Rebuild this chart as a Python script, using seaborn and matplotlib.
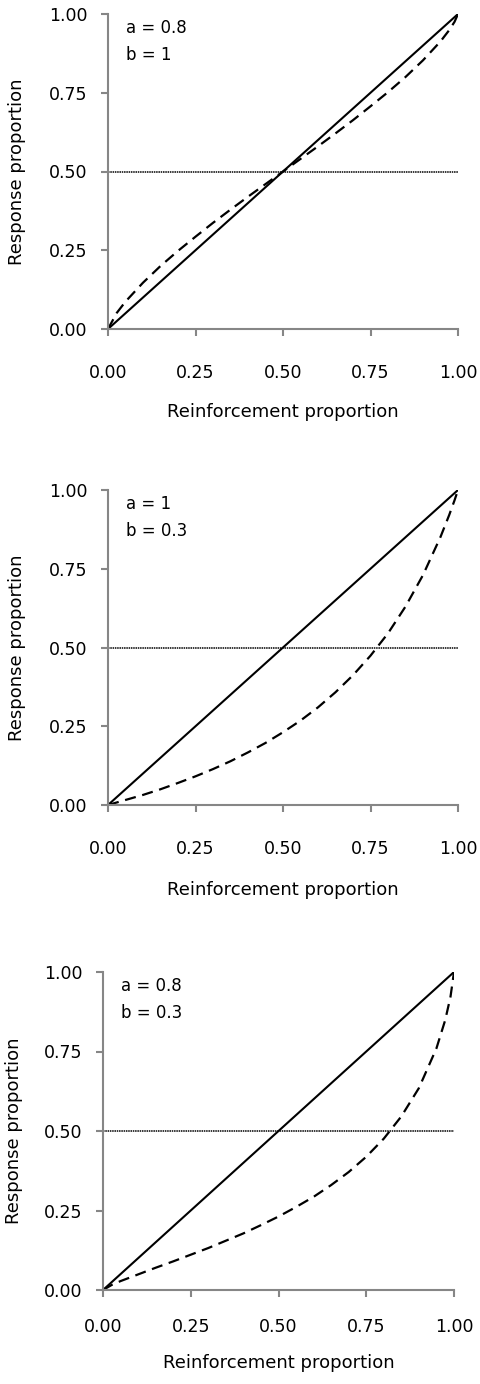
import matplotlib
matplotlib.use("Agg")
import matplotlib.pyplot as plt
import seaborn as sns
import pandas as pd

# ---- data ----
reinf = [0, 0.025, 0.05, 0.10, 0.15, 0.20, 0.25, 0.30, 0.35, 0.40, 0.45, 0.50,
         0.55, 0.60, 0.65, 0.70, 0.75, 0.80, 0.85, 0.90, 0.95, 0.975, 0.99, 1.0]
resp_p1 = [0, 0.051, 0.087, 0.147, 0.200, 0.248, 0.293, 0.337, 0.379, 0.420, 0.460, 0.500,
           0.540, 0.580, 0.621, 0.663, 0.707, 0.752, 0.800, 0.853, 0.913, 0.949, 0.975, 1.0]
resp_p2 = [0, 0.008, 0.016, 0.032, 0.050, 0.070, 0.091, 0.114, 0.139, 0.167, 0.197, 0.231,
           0.268, 0.310, 0.358, 0.412, 0.474, 0.545, 0.630, 0.730, 0.851, 0.921, 0.967, 1.0]
resp_p3 = [0, 0.016, 0.028, 0.049, 0.070, 0.090, 0.111, 0.132, 0.155, 0.178, 0.204, 0.231,
           0.261, 0.293, 0.330, 0.371, 0.419, 0.476, 0.546, 0.635, 0.760, 0.849, 0.922, 1.0]
diag_x = [0.0, 1.0]
diag_y = [0.0, 1.0]
half_x = [0.0, 1.0]
half_y = [0.5, 0.5]
panel_labels = [("a = 0.8", "b = 1"), ("a = 1", "b = 0.3"), ("a = 0.8", "b = 0.3")]
ticks = [0.0, 0.25, 0.5, 0.75, 1.0]
tick_labels = ["0.00", "0.25", "0.50", "0.75", "1.00"]
xlab = "Reinforcement proportion"
ylab = "Response proportion"

sns.set_theme(style="ticks")
plt.rcParams['font.family'] = ['DejaVu Sans']
plt.rcParams['text.color'] = 'black'

fig = plt.figure(figsize=(4.8, 13.84), dpi=100)
W, H = 480, 1384
# (left px, right px, top px, bottom px, ylabel x px, xtick pad, xlabel center px)
geo = [
    (108, 458, 14, 329, 17, 20, 412),
    (108, 458, 490, 805, 17, 20, 890),
    (103, 454, 972, 1290, 14, 15, 1363),
]
curves = [resp_p1, resp_p2, resp_p3]
gray = "#868686"

for i, (l, r, t, b, ylx, xpad, xlc) in enumerate(geo):
    ax = fig.add_axes([l / W, 1 - b / H, (r - l) / W, (b - t) / H])
    df = pd.DataFrame({"x": reinf, "y": curves[i]})
    sns.lineplot(x=diag_x, y=diag_y, ax=ax, color="black", lw=1.5)
    sns.lineplot(data=df, x="x", y="y", ax=ax, color="black", lw=1.6,
                 linestyle=(0, (5, 3)))
    sns.lineplot(x=half_x, y=half_y, ax=ax, color="black", lw=1.1,
                 linestyle=(0, (1, 0.5)))
    ax.set_xlim(0, 1)
    ax.set_ylim(0, 1)
    ax.set_xticks(ticks)
    ax.set_xticklabels(tick_labels)
    ax.set_yticks(ticks)
    ax.set_yticklabels(tick_labels)
    ax.margins(0)
    sns.despine(ax=ax)
    for s in ["left", "bottom"]:
        ax.spines[s].set_color(gray)
        ax.spines[s].set_linewidth(1.5)
    ax.tick_params(axis="both", colors=gray, length=5, width=1.5, labelsize=12.5,
                   labelcolor="black")
    ax.tick_params(axis="x", pad=xpad)
    ax.tick_params(axis="y", pad=10)
    ax.set_xlabel(xlab, fontsize=13, color="black")
    ax.set_ylabel(ylab, fontsize=13, color="black")
    ax.xaxis.label.set_va("center")
    ax.yaxis.label.set_va("center")
    ax.xaxis.set_label_coords(0.5, -(xlc - b) / (b - t))
    ax.yaxis.set_label_coords((ylx - l) / (r - l), 0.5)
    la, lb = panel_labels[i]
    tx = 0.05
    ax.text(tx, 0.955, la, transform=ax.transAxes, fontsize=12, va="center",
            ha="left", color="black")
    ax.text(tx, 0.87, lb, transform=ax.transAxes, fontsize=12, va="center",
            ha="left", color="black")

fig.savefig("out.png", dpi=100)
